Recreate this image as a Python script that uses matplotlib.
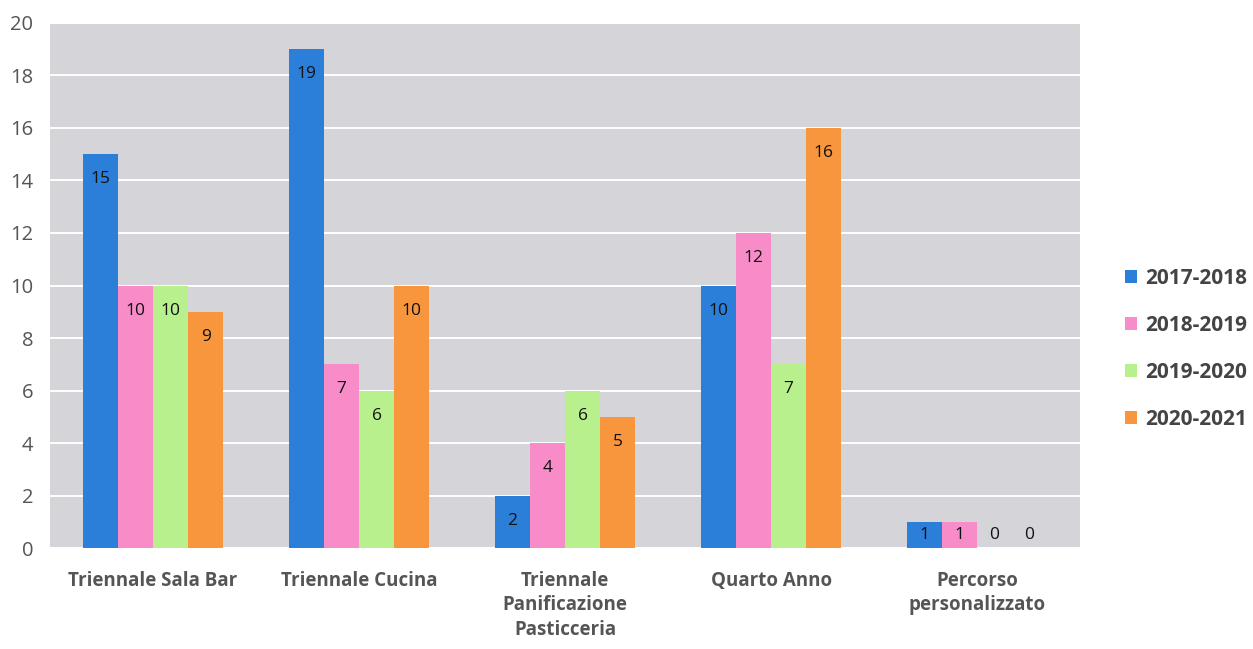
import matplotlib.pyplot as plt
import numpy as np

categories = ['Triennale Sala Bar', 'Triennale Cucina',
              'Triennale\nPanificazione\nPasticceria', 'Quarto Anno',
              'Percorso\npersonalizzato']
years = ['2017-2018', '2018-2019', '2019-2020', '2020-2021']
v_2017 = [15, 19, 2, 10, 1]
v_2018 = [10, 7, 4, 12, 1]
v_2019 = [10, 6, 6, 7, 0]
v_2020 = [9, 10, 5, 16, 0]
series = [v_2017, v_2018, v_2019, v_2020]
colors = ['#2b7fd9', '#f78cc8', '#b8f08e', '#f7963c']

plt.rcParams['font.family'] = ['Open Sans', 'DejaVu Sans']

fig = plt.figure(figsize=(12.53, 6.49), dpi=100)
ax = fig.add_axes([0.040, 0.155, 0.822, 0.81])
ax.set_facecolor('#d4d4d9')
fig.patch.set_facecolor('white')

x = np.arange(len(categories))
w = 0.17
for i, (vals, c, lab) in enumerate(zip(series, colors, years)):
    pos = x + (i - 1.5) * w
    ax.bar(pos, vals, width=w, color=c, label=lab, zorder=3)
    for p, v in zip(pos, vals):
        yy = v - 0.95 if v >= 2 else 0.5
        ax.text(p, yy, str(v), ha='center', va='center', fontsize=12.5,
                color='#111111', zorder=4)

ax.set_xlim(-0.5, 4.5)
ax.set_ylim(0, 20)
ax.set_yticks(range(0, 21, 2))
ax.yaxis.grid(True, color='white', linewidth=1.4, zorder=0)
ax.set_axisbelow(True)
for s in ax.spines.values():
    s.set_visible(False)
ax.tick_params(axis='both', length=0)
ax.tick_params(axis='y', pad=12, labelsize=14.5, labelcolor='#555555')
ax.set_xticks(x)
ax.set_xticklabels(categories, fontsize=13.5, fontweight='bold', color='#555555',
                   linespacing=1.3)
ax.tick_params(axis='x', pad=16)

leg = ax.legend(loc='center left', bbox_to_anchor=(1.025, 0.38), frameon=False,
                handlelength=0.6, handleheight=0.6, handletextpad=0.4,
                labelspacing=1.25, prop={'size': 15, 'weight': 'bold'})
for t in leg.get_texts():
    t.set_color('#444444')

fig.savefig('out.png', dpi=100)
